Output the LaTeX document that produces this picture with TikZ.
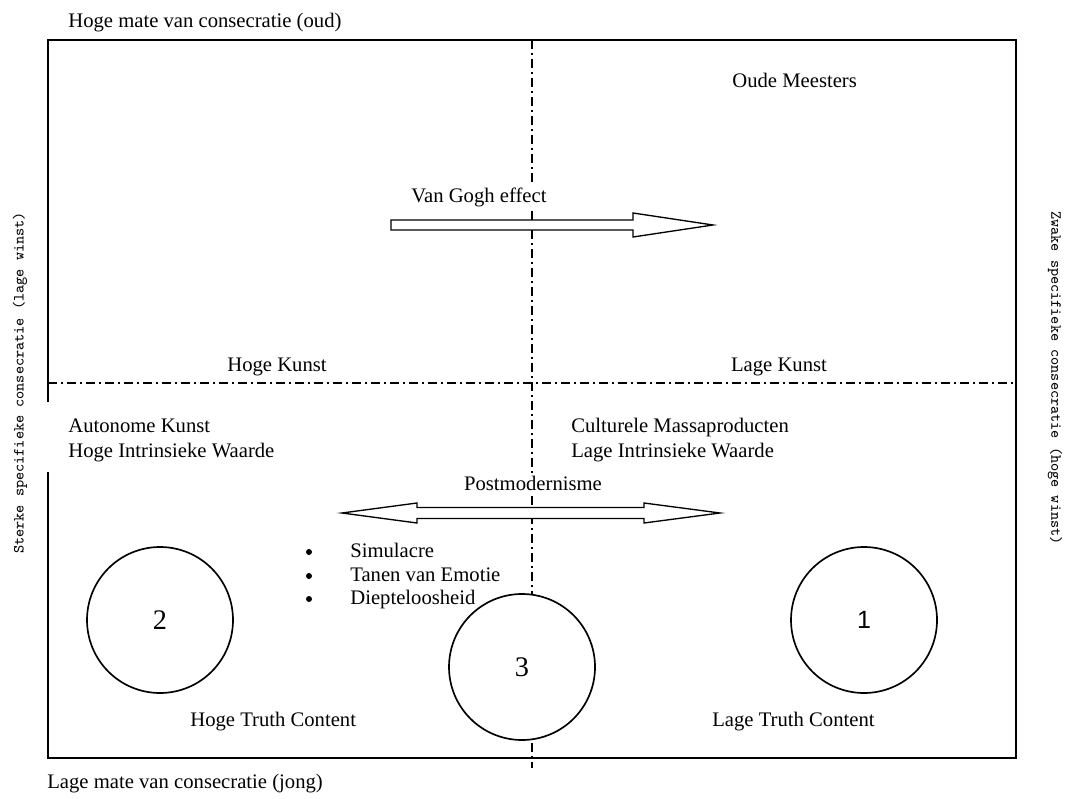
\documentclass[tikz,border=0pt]{standalone}
\usepackage{fontspec}
\setmainfont{Liberation Serif}
\newfontfamily\onefont{Liberation Sans}
\tikzset{
  lbl/.style={inner sep=0pt, font=\fontsize{12.4}{14.9}\selectfont},
  boxlbl/.style={lbl, fill=white, inner sep=1.5pt},
  axislbl/.style={inner sep=0pt, font=\ttfamily\fontsize{9.3}{11}\selectfont},
  divider/.style={line width=0.8pt, dash pattern=on 5.4pt off 2.4pt on 1.2pt off 2.4pt},
  zone/.style={circle, draw, fill=white, line width=1pt, minimum size=87.6pt, inner sep=0pt, font=\fontsize{17}{20}\selectfont},
  blockarrow/.style={draw, line width=0.8pt, fill=white, line join=miter},
  bulletdot/.style={circle, fill, inner sep=0pt, minimum size=3.6pt},
}
\begin{document}
\begin{tikzpicture}[x=0.6pt,y=-0.6pt]
\useasboundingbox (0,0) rectangle (1067,799);
% frame, open on the left between the two lower labels
\draw[line width=1.2pt] (48,402) -- (48,40.5) -- (1016,40.5) -- (1016,758) -- (48,758) -- (48,472);
\draw[divider] (532,40.5) -- (532,768);
\draw[divider] (48,383) -- (1016,383);
% axis labels
\node[lbl, anchor=base west] (hogemate) at (68,28) {Hoge mate van consecratie (oud)};
\node[lbl, anchor=base west] (lagemate) at (47,788) {Lage mate van consecratie (jong)};
\node[axislbl, rotate=90] (sterk) at (20,383) {Sterke specifieke consecratie (lage winst)};
\node[axislbl, rotate=-90] (zwak) at (1055,378) {Zwake specifieke consecratie (hoge winst)};
% upper half
\node[lbl, anchor=base west] (oude) at (732,88) {Oude Meesters};
\node[boxlbl, anchor=base] (vangogh) at (479,203) {Van Gogh effect};
\draw[blockarrow] (391,220) -- (633,220) -- (633,213) -- (713,225) -- (633,237) -- (633,230) -- (391,230) -- cycle;
\node[lbl, anchor=base] (hogekunst) at (277,371) {Hoge Kunst};
\node[lbl, anchor=base] (lagekunst) at (779,371) {Lage Kunst};
% lower half
\node[lbl, anchor=base west] (autonoom) at (68,432) {Autonome Kunst};
\node[lbl, anchor=base west] (hogeiw) at (68,457) {Hoge Intrinsieke Waarde};
\node[lbl, anchor=base west] (cultureel) at (571,432) {Culturele Massaproducten};
\node[lbl, anchor=base west] (lageiw) at (571,457) {Lage Intrinsieke Waarde};
\node[boxlbl, anchor=base] (postmod) at (533,490) {Postmodernisme};
\draw[blockarrow] (342,513) -- (417,503) -- (417,507.5) -- (644,507.5) -- (644,503) -- (720,513) -- (644,523) -- (644,518.5) -- (417,518.5) -- (417,523) -- cycle;
\foreach \y/\name/\txt in {557/simulacre/Simulacre, 581/tanen/Tanen van Emotie, 604/diepte/Diepteloosheid} {
  \node[bulletdot] (dot\name) at (309,\y-5) {};
  \node[lbl, anchor=base west] (\name) at (350,\y) {\txt};
}
\node[zone] (zone2) at (160,620) {2};
\node[zone] (zone3) at (522,667) {3};
\node[zone] (zone1) at (864,620) {\onefont\fontsize{15}{18}\selectfont 1};
\node[lbl, anchor=base west] (hogetruth) at (190,726) {Hoge Truth Content};
\node[lbl, anchor=base west] (lagetruth) at (712,726) {Lage Truth Content};
\end{tikzpicture}
\end{document}
